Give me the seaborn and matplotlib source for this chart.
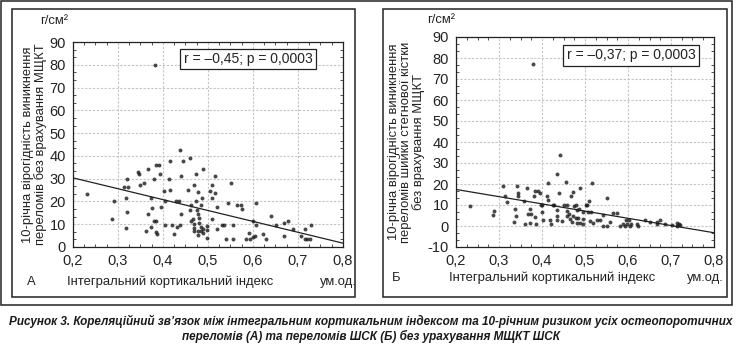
import numpy as np
import pandas as pd
import seaborn as sns
import matplotlib.pyplot as plt
from matplotlib.patches import Rectangle
from matplotlib.ticker import MultipleLocator, AutoMinorLocator, FuncFormatter

# Panel A: integral cortical index vs 10-year risk of all osteoporotic fractures
idx_a = [0.232, 0.291, 0.287, 0.319, 0.313, 0.323, 0.317, 0.320, 0.317, 0.344,
         0.347, 0.348, 0.357, 0.367, 0.367, 0.363, 0.374, 0.376, 0.373, 0.381,
         0.385, 0.391, 0.381, 0.385, 0.385, 0.387, 0.394, 0.396, 0.402, 0.404,
         0.404, 0.415, 0.413, 0.416, 0.421, 0.425, 0.430, 0.431, 0.437, 0.436,
         0.441, 0.441, 0.437, 0.444, 0.456, 0.459, 0.461, 0.462, 0.463, 0.467,
         0.469, 0.469, 0.468, 0.469, 0.473, 0.474, 0.476, 0.478, 0.478, 0.478,
         0.478, 0.480, 0.481, 0.485, 0.485, 0.484, 0.487, 0.490, 0.489, 0.489,
         0.498, 0.498, 0.498, 0.504, 0.510, 0.510, 0.510, 0.515, 0.515, 0.519,
         0.519, 0.532, 0.536, 0.541, 0.544, 0.552, 0.556, 0.556, 0.564, 0.574,
         0.576, 0.585, 0.591, 0.593, 0.599, 0.600, 0.604, 0.607, 0.606, 0.622,
         0.628, 0.641, 0.652, 0.669, 0.668, 0.678, 0.690, 0.707, 0.715, 0.715,
         0.720, 0.726, 0.730, 0.382]
risk_a = [23.3, 20.3, 12.4, 30.0, 26.4, 26.4, 21.4, 15.4, 8.3, 32.9,
          32.1, 27.1, 27.9, 34.3, 14.3, 7.1, 21.4, 17.1, 8.9, 30.0,
          36.0, 36.0, 11.4, 11.4, 6.4, 5.7, 32.1, 17.4, 24.6, 20.3,
          9.6, 37.9, 30.0, 25.0, 9.6, 5.7, 20.3, 8.6, 42.6, 20.3,
          31.1, 14.3, 9.6, 37.9, 25.0, 38.9, 16.4, 18.6, 11.4, 12.1,
          27.1, 10.3, 7.1, 8.3, 32.1, 20.0, 16.4, 24.3, 14.3, 7.1,
          5.3, 12.9, 10.7, 18.6, 8.9, 7.1, 21.7, 34.3, 7.9, 6.0,
          9.3, 7.4, 4.0, 24.6, 27.1, 21.7, 12.4, 31.1, 23.6, 17.4,
          7.9, 9.6, 9.6, 3.6, 19.3, 28.1, 9.6, 3.6, 18.6, 18.6,
          16.7, 3.6, 6.0, 3.6, 11.4, 4.3, 5.0, 19.3, 9.6, 5.7,
          3.6, 13.6, 9.6, 4.7, 10.7, 11.4, 7.9, 4.7, 7.9, 3.6,
          3.6, 3.6, 9.6, 80.0]

# Panel B: integral cortical index vs 10-year risk of femoral neck fractures
idx_b = [0.233, 0.285, 0.289, 0.309, 0.314, 0.319, 0.337, 0.339, 0.336, 0.341,
         0.345, 0.345, 0.358, 0.361, 0.364, 0.367, 0.372, 0.374, 0.372, 0.381,
         0.384, 0.384, 0.385, 0.391, 0.395, 0.397, 0.399, 0.399, 0.402, 0.411,
         0.415, 0.415, 0.419, 0.422, 0.426, 0.429, 0.434, 0.434, 0.436, 0.436,
         0.440, 0.443, 0.446, 0.451, 0.456, 0.457, 0.457, 0.459, 0.463, 0.465,
         0.467, 0.469, 0.471, 0.473, 0.474, 0.478, 0.478, 0.481, 0.482, 0.484,
         0.486, 0.488, 0.488, 0.496, 0.496, 0.496, 0.502, 0.504, 0.508, 0.509,
         0.512, 0.516, 0.514, 0.518, 0.529, 0.535, 0.541, 0.541, 0.552, 0.552,
         0.557, 0.564, 0.574, 0.581, 0.588, 0.593, 0.595, 0.598, 0.603, 0.605,
         0.606, 0.622, 0.624, 0.640, 0.651, 0.668, 0.668, 0.674, 0.686, 0.702,
         0.713, 0.715, 0.719, 0.722, 0.379]
risk_b = [9.3, 5.2, 7.0, 19.2, 14.3, 11.5, 8.2, 4.9, 2.1, 19.2,
          15.6, 14.3, 11.8, 1.1, 18.0, 5.7, 8.2, 5.7, 1.6, 14.3,
          16.7, 4.4, 1.1, 16.7, 15.9, 9.8, 9.8, 6.9, 2.8, 14.3,
          20.5, 12.3, 2.8, 1.1, 9.8, 9.8, 24.6, 7.4, 4.6, 2.8,
          15.6, 33.6, 2.5, 9.8, 21.0, 9.8, 7.0, 4.6, 5.7, 3.3,
          14.3, 2.1, 16.4, 4.6, 9.3, 9.8, 3.6, 1.6, 7.4, 3.6,
          8.2, 18.0, 1.6, 6.9, 3.3, 1.1, 9.8, 9.8, 6.9, 11.8,
          2.5, 20.5, 6.9, 1.6, 2.8, 2.8, 5.4, 0.0, 13.4, 0.0,
          2.1, 6.2, 6.1, 0.0, 0.8, 0.0, 3.0, 0.8, 2.8, 0.0,
          0.8, 0.8, 0.0, 3.0, 2.1, 0.8, 2.1, 3.0, 0.8, 0.3,
          1.6, 0.0, 0.8, 0.3, 77.0]

stats_a = "r = \u20130,45; p = 0,0003"
stats_b = "r = \u20130,37; p = 0,0003"
ylabel_a = "10-річна вірогідність виникнення\nпереломів без врахування МЩКТ"
ylabel_b = "10-річна вірогідність виникнення\nпереломів шийки стегнової кістки\nбез врахування МЩКТ"
xlabel = "Інтегральний кортикальний індекс"
unit_x = "ум.од."
unit_y = "г/см\u00b2"
x_ticks = [0.2, 0.3, 0.4, 0.5, 0.6, 0.7, 0.8]
caption_lines = [
    "Рисунок 3. Кореляційний зв\u2019язок між інтегральним кортикальним індексом та 10-річним ризиком усіх остеопоротичних",
    "переломів (А) та переломів ШСК (Б) без урахування МЩКТ ШСК",
]

sns.set_theme(style="white")
plt.rcParams['font.family'] = ['Liberation Sans', 'DejaVu Sans']

df_a = pd.DataFrame({"idx": idx_a, "risk": risk_a})
df_b = pd.DataFrame({"idx": idx_b, "risk": risk_b})

fig = plt.figure(figsize=(7.41, 3.44), dpi=100)
fig.patch.set_facecolor("white")

W, H = 741.0, 344.0


def px_rect(x0, y0, x1, y1):
    return [x0 / W, 1 - y1 / H, (x1 - x0) / W, (y1 - y0) / H]


# outer frame and panel frames
for (x0, y0, x1, y1) in [(1, 1, 732, 305), (12, 9, 355, 297), (383, 9, 727, 297)]:
    fig.add_artist(Rectangle((x0 / W, 1 - y1 / H), (x1 - x0) / W, (y1 - y0) / H,
                             transform=fig.transFigure, fill=False,
                             edgecolor="#222222", linewidth=1.1))

axA = fig.add_axes(px_rect(73, 42, 343, 247))
axB = fig.add_axes(px_rect(456, 37, 714, 247))

panels = [
    (axA, df_a, (0, 90), stats_a, ylabel_a, (0.648, 0.917), -0.098),
    (axB, df_b, (-10, 90), stats_b, ylabel_b, (0.678, 0.914), -0.122),
]

for ax, df, ylim, stats, ylab, spos, ylab_x in panels:
    ax.set_xlim(0.2, 0.8)
    ax.set_ylim(*ylim)
    sns.regplot(data=df, x="idx", y="risk", ax=ax, ci=None, truncate=False,
                scatter_kws=dict(s=8, color="#1a1a1a", linewidths=0, zorder=3),
                line_kws=dict(color="#222222", linewidth=0.9, zorder=2))
    ax.set_xlim(0.2, 0.8)
    ax.set_ylim(*ylim)
    ax.set_xticks(x_ticks)
    ax.yaxis.set_major_locator(MultipleLocator(10))
    ax.xaxis.set_minor_locator(AutoMinorLocator(4))
    ax.yaxis.set_minor_locator(AutoMinorLocator(3))
    ax.xaxis.set_major_formatter(FuncFormatter(lambda v, p: f"{v:.1f}".replace(".", ",")))
    ax.yaxis.set_major_formatter(FuncFormatter(lambda v, p: f"{v:.0f}"))
    ax.tick_params(which="both", direction="in", top=True, right=True,
                   bottom=True, left=True, color="#333333", width=0.6)
    ax.tick_params(which="major", length=0, labelsize=10.5, labelcolor="#222222", pad=5)
    ax.tick_params(which="minor", length=2.5)
    ax.grid(True, which="major", color="#c4c4c4", linestyle=(0, (2, 1.5)), linewidth=0.8)
    ax.set_axisbelow(True)
    for sp in ax.spines.values():
        sp.set_color("#222222")
        sp.set_linewidth(0.9)
    ax.set_xlabel("")
    ax.set_ylabel(ylab, fontsize=9.4, color="#222222", linespacing=0.95)
    ax.yaxis.set_label_coords(ylab_x, 0.5)
    ax.text(spos[0], spos[1], stats, transform=ax.transAxes, ha="center", va="center",
            fontsize=10, color="#222222", zorder=5,
            bbox=dict(boxstyle="square,pad=0.25", facecolor="white",
                      edgecolor="#222222", linewidth=0.9))

# text below / above each axes, positioned in pixels
txt = dict(fontsize=9.4, color="#222222", va="center")
fig.text(27 / W, 1 - 282 / H, "А", ha="left", **txt)
fig.text(67 / W, 1 - 282 / H, xlabel, ha="left", **txt)
fig.text(357 / W, 1 - 282 / H, unit_x, ha="right", **txt)
fig.text(40 / W, 1 - 21 / H, unit_y, ha="left", **txt)

fig.text(392 / W, 1 - 278 / H, "Б", ha="left", **txt)
fig.text(449 / W, 1 - 278 / H, xlabel, ha="left", **txt)
fig.text(724 / W, 1 - 278 / H, unit_x, ha="right", **txt)
fig.text(427 / W, 1 - 20 / H, unit_y, ha="left", **txt)

# figure caption: two centred bold-italic lines, shrunk to fit the page width
cap_texts = []
for line, ypx in zip(caption_lines, (321, 336)):
    cap_texts.append(fig.text(0.5, 1 - ypx / H, line, ha="center", va="center",
                              fontsize=10, fontweight="bold", fontstyle="italic",
                              color="#1a1a1a"))
renderer = fig.canvas.get_renderer()
size = 10.0
while cap_texts[0].get_window_extent(renderer).width > 730 and size > 5:
    size -= 0.1
    for t in cap_texts:
        t.set_fontsize(size)

fig.savefig("out.png", dpi=100, facecolor="white")
